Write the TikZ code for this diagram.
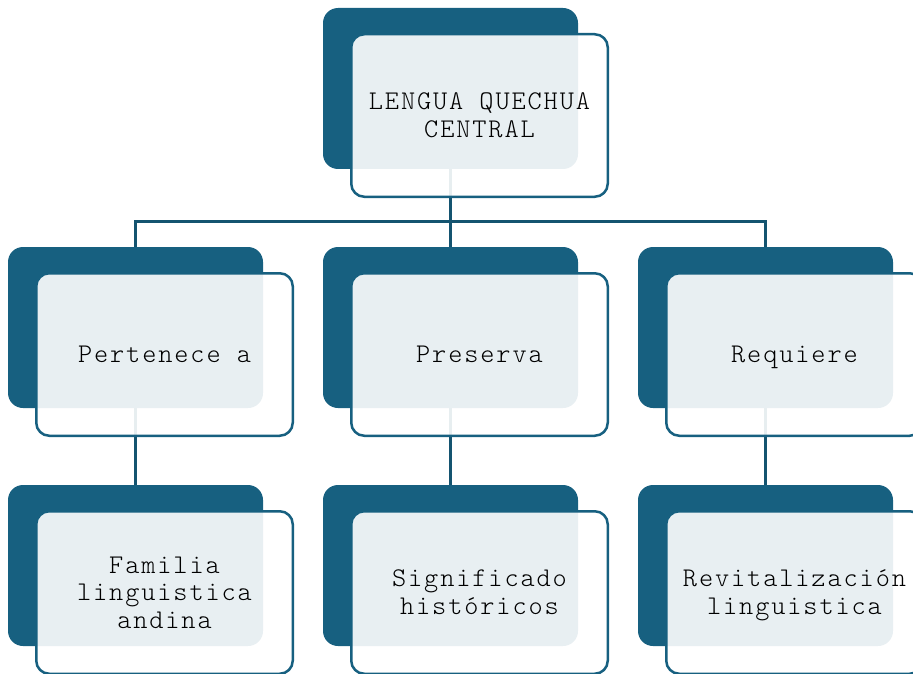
\documentclass[tikz,border=0pt]{standalone}
\usepackage{fontspec}
\newfontfamily\qmono{Latin Modern Mono Light}[LetterSpace=7]
\usetikzlibrary{calc}
\definecolor{qdark}{RGB}{23,96,128}
\definecolor{qline}{RGB}{20,84,112}
\newcommand\qsp{\hspace{16.06pt}}
\tikzset{
  x=1pt,y=-1pt,
  darkbox/.style={draw=none,fill=qdark,rounded corners=15pt,minimum width=255pt,minimum height=161pt,inner sep=0pt},
  lightbox/.style={draw=qdark,line width=2.5pt,fill=white,fill opacity=0.9,text opacity=1,rounded corners=13pt,minimum width=256.5pt,minimum height=162.5pt,inner sep=0pt,align=center,text width=250pt,font=\qmono\fontsize{27}{27.5}\selectfont},
  conn/.style={draw=qline,line width=2.3pt},
}
\newcommand\qdarkunit[3]{\node[darkbox] (#1) at (#2+127.5,#3+80.5) {};}
\newcommand\qlightunit[4]{\node[lightbox] (#1) at (#2+27+129.5,#3+25+82.5) {\rule{0pt}{24.5pt}#4\strut};}
\begin{document}
\begin{tikzpicture}
\useasboundingbox (0,0) rectangle (913,674);
\clip (0,0) rectangle (913,674);
% dark back boxes
\qdarkunit{Td}{323}{8}
\qdarkunit{Ad}{8}{247}
\qdarkunit{Bd}{323}{247}
\qdarkunit{Cd}{638}{247}
\qdarkunit{Ed}{8}{485}
\qdarkunit{Fd}{323}{485}
\qdarkunit{Gd}{638}{485}
% connectors
\coordinate (bus) at (0,221.5);
\draw[conn] (Td.south) -- (Td.south |- bus) -| (Ad.north);
\draw[conn] (Td.south |- bus) -- (Bd.north);
\draw[conn] (Td.south |- bus) -| (Cd.north);
\draw[conn] (Ad.south) -- (Ed.north);
\draw[conn] (Bd.south) -- (Fd.north);
\draw[conn] (Cd.south) -- (Gd.north);
% light front boxes
\qlightunit{T}{323}{8}{LENGUA\qsp QUECHUA\\CENTRAL}
\qlightunit{A}{8}{247}{Pertenece\qsp a}
\qlightunit{B}{323}{247}{Preserva}
\qlightunit{C}{638}{247}{Requiere}
\qlightunit{E}{8}{485}{Familia\\linguistica\\andina}
\qlightunit{F}{323}{485}{Significado\\históricos}
\qlightunit{G}{638}{485}{Revitalización\\linguistica}
\end{tikzpicture}
\end{document}
